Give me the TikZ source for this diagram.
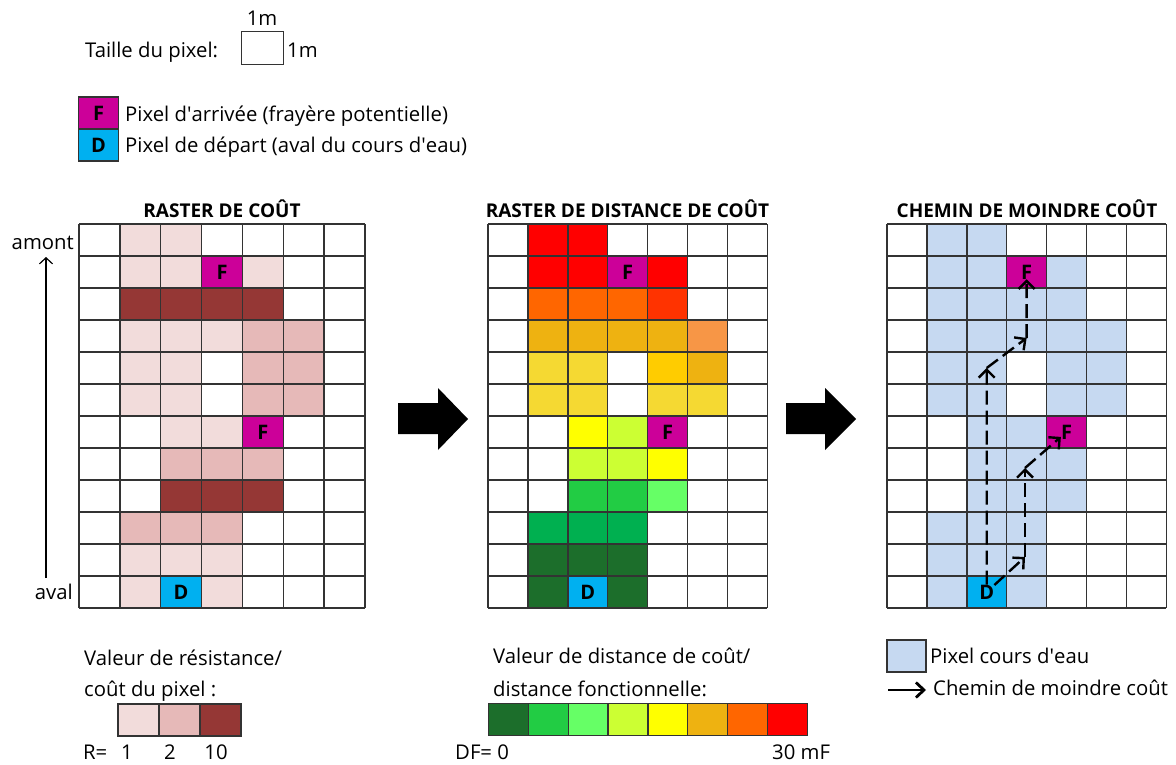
\documentclass[tikz,border=0pt]{standalone}
\usepackage{fontspec}
\setmainfont{Open Sans}
\usepackage{tikz}
\usetikzlibrary{arrows.meta}

\definecolor{fpink}{HTML}{CC0099}
\definecolor{dcyan}{HTML}{00B0F0}
\definecolor{rlow}{HTML}{F2DCDB}
\definecolor{rmid}{HTML}{E6B9B8}
\definecolor{rhigh}{HTML}{953735}
\definecolor{water}{HTML}{C6D9F1}
\definecolor{dfa}{HTML}{1C6E2B}
\definecolor{dfb}{HTML}{22CC44}
\definecolor{dfc}{HTML}{66FF66}
\definecolor{dfd}{HTML}{CCFF33}
\definecolor{dfe}{HTML}{FFFF00}
\definecolor{dff}{HTML}{EEB211}
\definecolor{dfg}{HTML}{FF6600}
\definecolor{dfh}{HTML}{FF0000}
\definecolor{medgreen}{HTML}{00B050}
\definecolor{redorange}{HTML}{FF3300}
\definecolor{lightorange}{HTML}{F79646}
\definecolor{paleyellow}{HTML}{F5D932}
\definecolor{amber}{HTML}{FFCC00}

\begin{document}
\begin{tikzpicture}[x=1pt, y=-1pt,
        txt/.style={anchor=base west, inner sep=0pt, font=\fontsize{20.3}{24}\selectfont},
        title/.style={anchor=base, inner sep=0pt, font=\fontsize{19}{23}\selectfont\bfseries},
        lbl/.style={inner sep=0pt, font=\fontsize{20}{24}\selectfont\bfseries},
        gridline/.style={draw=black!80, line width=1.5pt},
        legbox/.style={draw=black!80, line width=1.2pt, minimum width=40pt, minimum height=32pt, inner sep=0pt},
        route/.style={-{Straight Barb[length=8pt, width=16pt]}, line width=2.4pt, dash pattern=on 14pt off 6pt},
        bigarrow/.style={fill=black}
    ]
        \useasboundingbox (0,0) rectangle (1176,765);

        % Pixel size
        \node[txt] (taille) at (85,58) {Taille du pixel:};
        \node[draw=black!80, line width=1pt, minimum width=42pt, minimum height=33pt, inner sep=0pt] (px) at (262,48.5) {};
        \node[txt, anchor=base] (mtop) at (262,26) {1m};
        \node[txt] (mright) at (287,58) {1m};

        % Start / end pixels
        \node[legbox, fill=fpink, lbl] (legf) at (98.5,113) {F};
        \node[legbox, fill=dcyan, lbl] (legd) at (98.5,145) {D};
        \node[txt] (legftxt) at (125,122) {Pixel d\textquotesingle arrivée (frayère potentielle)};
        \node[txt] (legdtxt) at (125,153) {Pixel de départ (aval du cours d\textquotesingle eau)};

        % Titles
        \node[title] (t1) at (222,217) {RASTER DE COÛT};
        \node[title] (t2) at (627.5,217) {RASTER DE DISTANCE DE COÛT};
        \node[title] (t3) at (1027,217) {CHEMIN DE MOINDRE COÛT};

        % Upstream / downstream
        \node[txt, anchor=base east] (amont) at (74,249) {amont};
        \node[txt, anchor=base east] (aval) at (73,599) {aval};
        \coordinate (flow0) at (46,578);
        \coordinate (flow1) at (46,257);
        \draw[-{Straight Barb[length=6pt, width=13pt]}, line width=1.2pt] (flow0) -- (flow1);

        % Cost raster
        \begin{scope}[shift={(79,224)}, x=40.86pt, y=-32pt]
            \foreach \c/\r/\k in {2/1/rlow, 3/1/rlow, 2/2/rlow, 3/2/rlow, 5/2/rlow,
                    2/3/rhigh, 3/3/rhigh, 4/3/rhigh, 5/3/rhigh,
                    2/4/rlow, 3/4/rlow, 4/4/rlow, 5/4/rmid, 6/4/rmid,
                    2/5/rlow, 3/5/rlow, 5/5/rmid, 6/5/rmid,
                    2/6/rlow, 3/6/rlow, 5/6/rmid, 6/6/rmid,
                    3/7/rlow, 4/7/rlow, 3/8/rmid, 4/8/rmid, 5/8/rmid,
                    3/9/rhigh, 4/9/rhigh, 5/9/rhigh,
                    2/10/rmid, 3/10/rmid, 4/10/rmid,
                    2/11/rlow, 3/11/rlow, 4/11/rlow, 2/12/rlow, 4/12/rlow,
                    4/2/fpink, 5/7/fpink, 3/12/dcyan}
                \fill[\k] (\c-1,\r-1) rectangle (\c,\r);
            \foreach \i in {0,...,7} \draw[gridline] (\i,0) -- (\i,12);
            \foreach \j in {0,...,12} \draw[gridline] (0,\j) -- (7,\j);
            \node[lbl] (fA1) at (3.5,1.5) {F};
            \node[lbl] (fA2) at (4.5,6.5) {F};
            \node[lbl] (dA) at (2.5,11.5) {D};
        \end{scope}

        % Cost distance raster
        \begin{scope}[shift={(488,224)}, x=39.9pt, y=-32pt]
            \foreach \c/\r/\k in {2/1/dfh, 3/1/dfh, 2/2/dfh, 3/2/dfh, 5/2/dfh,
                    2/3/dfg, 3/3/dfg, 4/3/dfg, 5/3/redorange,
                    2/4/dff, 3/4/dff, 4/4/dff, 5/4/dff, 6/4/lightorange,
                    2/5/paleyellow, 3/5/paleyellow, 5/5/amber, 6/5/dff,
                    2/6/paleyellow, 3/6/paleyellow, 5/6/paleyellow, 6/6/paleyellow,
                    3/7/dfe, 4/7/dfd, 3/8/dfd, 4/8/dfd, 5/8/dfe,
                    3/9/dfb, 4/9/dfb, 5/9/dfc,
                    2/10/medgreen, 3/10/medgreen, 4/10/medgreen,
                    2/11/dfa, 3/11/dfa, 4/11/dfa, 2/12/dfa, 4/12/dfa,
                    4/2/fpink, 5/7/fpink, 3/12/dcyan}
                \fill[\k] (\c-1,\r-1) rectangle (\c,\r);
            \foreach \i in {0,...,7} \draw[gridline] (\i,0) -- (\i,12);
            \foreach \j in {0,...,12} \draw[gridline] (0,\j) -- (7,\j);
            \node[lbl] (fB1) at (3.5,1.5) {F};
            \node[lbl] (fB2) at (4.5,6.5) {F};
            \node[lbl] (dB) at (2.5,11.5) {D};
        \end{scope}

        % Least cost path
        \begin{scope}[shift={(887,224)}, x=39.9pt, y=-32pt]
            \foreach \c/\r/\k in {2/1/water, 3/1/water, 2/2/water, 3/2/water, 5/2/water,
                    2/3/water, 3/3/water, 4/3/water, 5/3/water,
                    2/4/water, 3/4/water, 4/4/water, 5/4/water, 6/4/water,
                    2/5/water, 3/5/water, 5/5/water, 6/5/water,
                    2/6/water, 3/6/water, 5/6/water, 6/6/water,
                    3/7/water, 4/7/water, 3/8/water, 4/8/water, 5/8/water,
                    3/9/water, 4/9/water, 5/9/water,
                    2/10/water, 3/10/water, 4/10/water,
                    2/11/water, 3/11/water, 4/11/water, 2/12/water, 4/12/water,
                    4/2/fpink, 5/7/fpink, 3/12/dcyan}
                \fill[\k] (\c-1,\r-1) rectangle (\c,\r);
            \foreach \i in {0,...,7} \draw[gridline] (\i,0) -- (\i,12);
            \foreach \j in {0,...,12} \draw[gridline] (0,\j) -- (7,\j);
            \node[lbl] (fC1) at (3.5,1.5) {F};
            \node[lbl] (fC2) at (4.5,6.5) {F};
            \node[lbl] (dC) at (2.5,11.5) {D};
        \end{scope}

        % Paths
        \coordinate (p1) at (986.7,368);
        \coordinate (p2) at (1026.6,338);
        \coordinate (q1) at (1025,557);
        \coordinate (q2) at (1025,468);
        \draw[route] (dC) -- (p1);
        \draw[route] (p1) -- (p2);
        \draw[route] (p2) -- (fC1);
        \draw[route] (dC) -- (q1);
        \draw[route] (q1) -- (q2);
        \draw[route] (q2) -- (fC2);

        % Big arrows
        \fill[bigarrow] (398,403) -- (438,403) -- (438,388) -- (468,419) -- (438,450) -- (438,434) -- (398,434) -- cycle;
        \fill[bigarrow] (786,403) -- (825,403) -- (825,388) -- (856,419) -- (825,450) -- (825,434) -- (786,434) -- cycle;

        % Resistance legend
        \node[txt] (rtxt1) at (84,665) {Valeur de résistance/};
        \node[txt] (rtxt2) at (84,696) {coût du pixel :};
        \foreach \k [count=\i] in {rlow, rmid, rhigh}
            \node[legbox, fill=\k, minimum width=41pt] (rleg\i) at (97.5+41*\i,720) {};
        \node[txt] (req) at (83,759) {R=};
        \node[txt, anchor=base] (r1) at (127,759) {1};
        \node[txt, anchor=base] (r2) at (170,759) {2};
        \node[txt, anchor=base] (r3) at (216,759) {10};

        % Cost distance legend
        \node[txt] (dtxt1) at (493,663) {Valeur de distance de coût/};
        \node[txt] (dtxt2) at (493,696) {distance fonctionnelle:};
        \foreach \k [count=\i] in {dfa, dfb, dfc, dfd, dfe, dff, dfg, dfh}
            \node[legbox, fill=\k, minimum width=39.9pt] (dleg\i) at (488.3+39.9*\i-19.95,719.5) {};
        \node[txt] (dmin) at (455,759) {DF= 0};
        \node[txt] (dmax) at (772,759) {30 mF};

        % Path legend
        \node[legbox, fill=water, minimum width=39pt] (wleg) at (906.5,656) {};
        \node[txt] (wtxt) at (930,663) {Pixel cours d\textquotesingle eau};
        \coordinate (la0) at (888,690);
        \coordinate (la1) at (926,690);
        \draw[-{Straight Barb[length=8pt, width=15pt]}, line width=2.8pt] (la0) -- (la1);
        \node[txt] (atxt) at (933,695) {Chemin de moindre coût};

    \end{tikzpicture}
\end{document}
